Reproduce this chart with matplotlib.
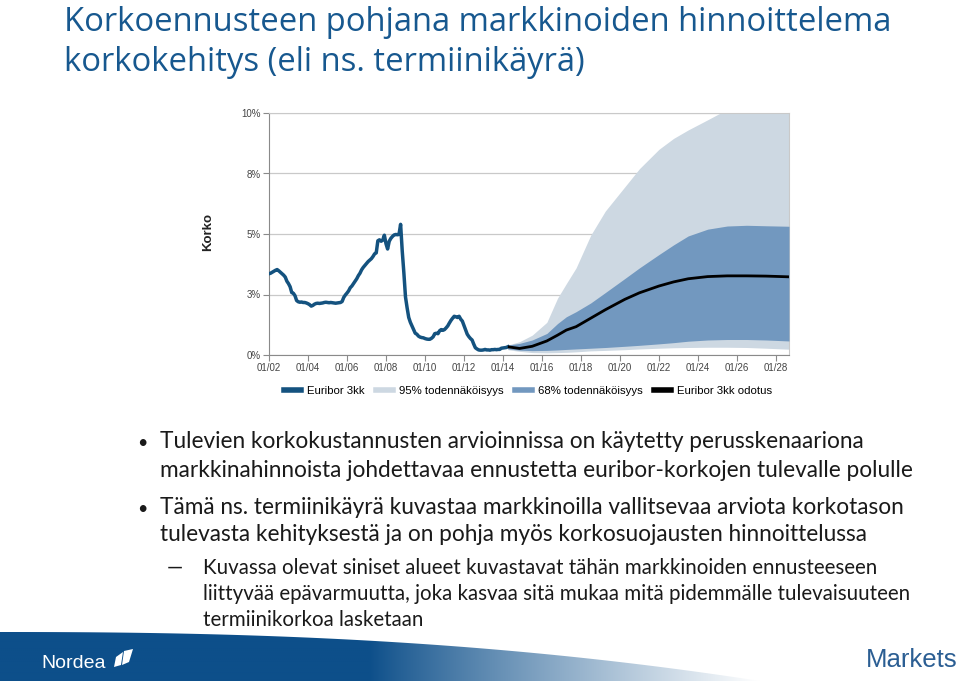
import numpy as np
import matplotlib
matplotlib.use("Agg")
import matplotlib.pyplot as plt
from matplotlib.lines import Line2D
from matplotlib.patches import Polygon

# ==========================================================
# Data
# ==========================================================
# Euribor 3kk, monthly values starting 01/2002
hist_start = 2002.0
euribor_hist = [
    3.36, 3.38, 3.42, 3.46, 3.50, 3.53, 3.48, 3.42, 3.36, 3.30, 3.22, 3.05,  # 2002
    2.95, 2.82, 2.58, 2.55, 2.45, 2.25, 2.20, 2.18, 2.19, 2.17, 2.17, 2.15,  # 2003
    2.12, 2.08, 2.02, 2.05, 2.10, 2.13, 2.14, 2.13, 2.14, 2.15, 2.17, 2.18,  # 2004
    2.17, 2.16, 2.17, 2.16, 2.15, 2.14, 2.15, 2.16, 2.17, 2.21, 2.38, 2.48,  # 2005
    2.56, 2.65, 2.78, 2.85, 2.95, 3.05, 3.15, 3.28, 3.38, 3.52, 3.62, 3.70,  # 2006
    3.78, 3.86, 3.92, 3.98, 4.07, 4.18, 4.22, 4.72, 4.76, 4.70, 4.75, 4.95,  # 2007
    4.60, 4.38, 4.70, 4.82, 4.90, 4.96, 4.98, 4.97, 4.98, 5.40, 4.30, 3.40,  # 2008
    2.40, 1.95, 1.55, 1.35, 1.20, 1.05, 0.90, 0.86, 0.78, 0.74, 0.72, 0.71,  # 2009
    0.68, 0.66, 0.65, 0.65, 0.69, 0.75, 0.88, 0.90, 0.88, 1.00, 1.05, 1.02,  # 2010
    1.05, 1.12, 1.20, 1.32, 1.43, 1.52, 1.60, 1.58, 1.55, 1.60, 1.48, 1.40,  # 2011
    1.22, 1.05, 0.86, 0.76, 0.68, 0.62, 0.45, 0.30, 0.25, 0.21, 0.20, 0.20,  # 2012
    0.21, 0.23, 0.21, 0.21, 0.20, 0.22, 0.22, 0.23, 0.22, 0.23, 0.23, 0.28,  # 2013
    0.29, 0.30, 0.31, 0.34,                                                  # 2014
]

# forecast (termiinikäyrä) and probability bands
fc_years = [2014.25, 2014.85, 2015.5, 2016.25, 2016.8, 2017.25, 2017.75, 2018.5, 2019.25,
            2020.25, 2021.0, 2022.0, 2022.75, 2023.5, 2024.5, 2025.5, 2026.5, 2027.5, 2028.67]
fc_mean = [0.34, 0.27, 0.36, 0.58, 0.82, 1.03, 1.17, 1.52, 1.87,
           2.30, 2.57, 2.85, 3.02, 3.15, 3.24, 3.27, 3.27, 3.26, 3.23]
p68_hi = [0.41, 0.48, 0.62, 0.89, 1.30, 1.58, 1.79, 2.15, 2.58,
          3.16, 3.60, 4.15, 4.55, 4.92, 5.20, 5.33, 5.36, 5.34, 5.32]
p68_lo = [0.25, 0.20, 0.18, 0.19, 0.21, 0.23, 0.25, 0.28, 0.31,
          0.36, 0.40, 0.46, 0.51, 0.57, 0.62, 0.64, 0.64, 0.62, 0.58]
p95_hi = [0.41, 0.55, 0.82, 1.35, 2.35, 2.95, 3.60, 4.95, 5.95,
          6.95, 7.70, 8.50, 8.95, 9.30, 9.72, 10.15, 10.40, 10.55, 10.60]
p95_lo = [0.22, 0.15, 0.10, 0.09, 0.10, 0.11, 0.13, 0.17, 0.19,
          0.22, 0.25, 0.28, 0.30, 0.31, 0.32, 0.32, 0.31, 0.28, 0.24]

x_ticks = [2002, 2004, 2006, 2008, 2010, 2012, 2014, 2016, 2018, 2020, 2022, 2024, 2026, 2028]
x_labels = ["01/02", "01/04", "01/06", "01/08", "01/10", "01/12", "01/14",
            "01/16", "01/18", "01/20", "01/22", "01/24", "01/26", "01/28"]
y_ticks = [0, 2.5, 5, 7.5, 10]
y_labels = ["0%", "3%", "5%", "8%", "10%"]

legend_labels = ["Euribor 3kk", "95% todennäköisyys", "68% todennäköisyys", "Euribor 3kk odotus"]

title_lines = ["Korkoennusteen pohjana markkinoiden hinnoittelema",
               "korkokehitys (eli ns. termiinikäyrä)"]
bullet_1 = ["Tulevien korkokustannusten arvioinnissa on käytetty perusskenaariona",
            "markkinahinnoista johdettavaa ennustetta euribor-korkojen tulevalle polulle"]
bullet_2 = ["Tämä ns. termiinikäyrä kuvastaa markkinoilla vallitsevaa arviota korkotason",
            "tulevasta kehityksestä ja on pohja myös korkosuojausten hinnoittelussa"]
sub_bullet = ["Kuvassa olevat siniset alueet kuvastavat tähän markkinoiden ennusteeseen",
              "liittyvää epävarmuutta, joka kasvaa sitä mukaa mitä pidemmälle tulevaisuuteen",
              "termiinikorkoa lasketaan"]

# colours
C_HIST = "#14527f"
C_95 = "#cdd8e2"
C_68 = "#7298bf"
C_MEAN = "#000000"
C_TITLE = "#17588f"
C_TEXT = "#1a1a1a"
C_BANNER = np.array([13, 79, 138]) / 255.0

W, H = 960, 684
TITLE_FONT = ["Open Sans", "DejaVu Sans"]
BODY_FONT = ["Lato", "DejaVu Sans"]
CHART_FONT = ["Liberation Sans", "DejaVu Sans"]

fig = plt.figure(figsize=(W / 100, H / 100), dpi=100)
fig.patch.set_facecolor("white")

# ==========================================================
# Background layer (pixel coords) - banner & slide texts
# ==========================================================
bg = fig.add_axes([0, 0, 1, 1], zorder=0)
bg.set_xlim(0, W)
bg.set_ylim(H, 0)
bg.axis("off")

# ---- gradient banner at the bottom ----
gx = np.linspace(0, W, 480)
t = np.clip((gx - 370) / 390.0, 0, 1) ** 0.9
grad = C_BANNER[None, :] * (1 - t[:, None]) + np.ones(3)[None, :] * t[:, None]
img = np.repeat(grad[None, :, :], 10, axis=0)
im = bg.imshow(img, extent=[0, W, 681, 630], aspect="auto", interpolation="bilinear", zorder=1)
curve_x = np.linspace(0, 760, 60)
curve_y = 632 + 49 * (curve_x / 760) ** 2.4
clip_pts = list(zip(curve_x, curve_y)) + [(760, 681), (0, 681)]
clip = Polygon(clip_pts, closed=True, transform=bg.transData, facecolor="none", edgecolor="none")
bg.add_patch(clip)
im.set_clip_path(clip)

# ---- logos ----
bg.text(41, 663, "Nordea", color="white", fontsize=14, family=CHART_FONT,
        ha="left", va="center", zorder=3)
bg.add_patch(Polygon([(116, 657), (123, 652), (121, 665), (114, 667)], closed=True,
                     facecolor="white", edgecolor="none", zorder=3))
bg.add_patch(Polygon([(124, 651), (133, 649), (129, 662), (122, 665)], closed=True,
                     facecolor="white", edgecolor="none", zorder=3))
bg.text(958, 660, "Markets", color="#2b5e93", fontsize=18.5, family=CHART_FONT,
        ha="right", va="center", zorder=3)

# ---- title ----
for i, line in enumerate(title_lines):
    bg.text(64, 31 + i * 40, line, color=C_TITLE, fontsize=23.6, family=TITLE_FONT,
            ha="left", va="baseline")

# ---- bullet texts ----
def put_lines(lines, x, baselines, size, marker=None, marker_x=None, marker_size=None):
    if marker:
        bg.text(marker_x, baselines[0], marker, color=C_TEXT, fontsize=marker_size or size,
                family=BODY_FONT, ha="left", va="baseline")
    for line, yb in zip(lines, baselines):
        bg.text(x, yb, line, color=C_TEXT, fontsize=size, family=BODY_FONT,
                ha="left", va="baseline")

put_lines(bullet_1, 160, [448, 477], 16.3, "•", 137, 13)
put_lines(bullet_2, 160, [514, 541], 16.3, "•", 137, 13)
put_lines(sub_bullet, 203, [574, 600, 626], 14.8, "—", 167, 14.8)

# ==========================================================
# Chart
# ==========================================================
ax = fig.add_axes([269 / W, 1 - 355 / H, 520 / W, 242 / H], zorder=2)

hist_x = hist_start + np.arange(len(euribor_hist)) / 12.0
ax.fill_between(fc_years, p95_lo, p95_hi, color=C_95, lw=0, zorder=2)
ax.fill_between(fc_years, p68_lo, p68_hi, color=C_68, lw=0, zorder=3)
ax.plot(hist_x, euribor_hist, color=C_HIST, lw=2.5, zorder=4, solid_joinstyle="round")
ax.plot(fc_years, fc_mean, color=C_MEAN, lw=2.0, zorder=5, solid_capstyle="butt")

ax.set_xlim(2002, 2028.67)
ax.set_ylim(0, 10)
ax.set_xticks(x_ticks)
ax.set_xticklabels(x_labels)
ax.set_yticks(y_ticks)
ax.set_yticklabels(y_labels)
ax.grid(axis="y", color="#c9c9c9", lw=0.9, zorder=0)
ax.set_axisbelow(True)
for side in ["top", "right"]:
    ax.spines[side].set_color("#c9c9c9")
for side in ["left", "bottom"]:
    ax.spines[side].set_color("#8a8a8a")
ax.tick_params(axis="both", direction="out", color="#8a8a8a", length=4, width=0.8,
               labelcolor="#444444", labelsize=7)
ax.tick_params(axis="x", pad=2)
ax.tick_params(axis="y", pad=2)
for lbl in ax.get_xticklabels() + ax.get_yticklabels():
    lbl.set_family(CHART_FONT)

fig.text(208 / W, 1 - 232 / H, "Korko", rotation=90, fontsize=9.5, fontweight="bold",
         color="#222222", ha="center", va="center", family=CHART_FONT)

# ---- legend ----
handles = [Line2D([], [], color=c, lw=4) for c in [C_HIST, C_95, C_68, C_MEAN]]
fig.legend(handles, legend_labels, loc="center", bbox_to_anchor=(528 / W, 1 - 391 / H),
           ncol=4, frameon=False, handlelength=1.5, handletextpad=0.5, columnspacing=1.0,
           prop={"family": CHART_FONT, "size": 8.2})

fig.savefig("out.png", dpi=100)
